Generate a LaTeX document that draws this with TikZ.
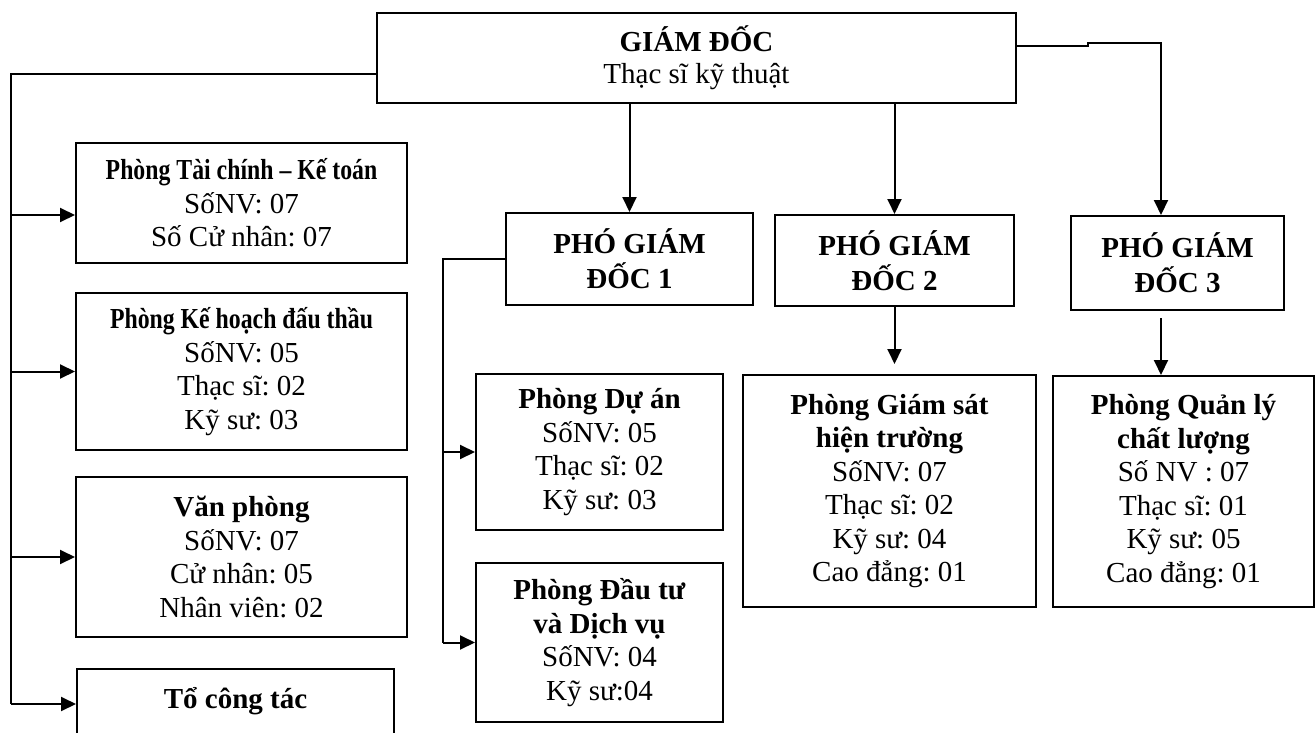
\documentclass[tikz,border=0pt]{standalone}
\usepackage{fontspec}
\setmainfont{Liberation Serif}
\usepackage{graphicx}
\usetikzlibrary{arrows.meta}
\frenchspacing
\tikzset{
  box/.style={draw, line width=2pt, align=center, inner sep=0pt, font=\fontsize{29}{33.5}\selectfont},
  arr/.style={line width=2pt, -{Triangle[length=15pt,width=14pt]}},
  ln/.style={line width=2pt},
}
\newcommand{\cond}[1]{\scalebox{0.82}[1]{\textbf{#1}}}
\begin{document}
\begin{tikzpicture}[x=1pt,y=-1pt]
\useasboundingbox (0,0) rectangle (1315,733);
\clip (0,0) rectangle (1315,733);
% top
\node[box, minimum width=639pt, minimum height=90pt, font=\fontsize{29}{32}\selectfont] (gd) at (696.5,58) {\textbf{GIÁM ĐỐC}\\Thạc sĩ kỹ thuật};
% left column
\node[box, minimum width=331pt, minimum height=120pt] (tck) at (241.5,203) {\cond{Phòng Tài chính – Kế toán}\\SốNV: 07\\Số Cử nhân: 07};
\node[box, minimum width=331pt, minimum height=157pt] (kh) at (241.5,371.5) {\cond{Phòng Kế hoạch đấu thầu}\\SốNV: 05\\Thạc sĩ: 02\\Kỹ sư: 03};
\node[box, minimum width=331pt, minimum height=160pt] (vp) at (241.5,557) {\textbf{Văn phòng}\\SốNV: 07\\Cử nhân: 05\\Nhân viên: 02};
\node[box, anchor=north west, minimum width=317pt, text height=39pt, text depth=70pt] (tct) at (76,668) {\textbf{Tổ công tác}};
% deputies
\node[box, minimum width=247pt, minimum height=92pt, font=\fontsize{29}{35}\selectfont] (pgd1) at (629.5,259) {\textbf{PHÓ GIÁM}\\\textbf{ĐỐC 1}};
\node[box, minimum width=239pt, minimum height=91pt, font=\fontsize{29}{35}\selectfont] (pgd2) at (894.5,260.5) {\textbf{PHÓ GIÁM}\\\textbf{ĐỐC 2}};
\node[box, minimum width=213pt, minimum height=94pt, font=\fontsize{29}{35}\selectfont] (pgd3) at (1177.5,263) {\textbf{PHÓ GIÁM}\\\textbf{ĐỐC 3}};
% departments
\node[box, minimum width=247pt, minimum height=156pt] (da) at (599.5,452) {\textbf{Phòng Dự án}\\SốNV: 05\\Thạc sĩ: 02\\Kỹ sư: 03};
\node[box, minimum width=247pt, minimum height=159pt] (dt) at (599.5,642.5) {\textbf{Phòng Đầu tư}\\\textbf{và Dịch vụ}\\SốNV: 04\\Kỹ sư:04};
\node[box, minimum width=293pt, minimum height=232pt] (gs) at (889.5,491) {\textbf{Phòng Giám sát}\\\textbf{hiện trường}\\SốNV: 07\\Thạc sĩ: 02\\Kỹ sư: 04\\Cao đẳng: 01};
\node[box, minimum width=261pt, minimum height=231pt] (ql) at (1183.5,491.5) {\textbf{Phòng Quản lý}\\\textbf{chất lượng}\\Số NV : 07\\Thạc sĩ: 01\\Kỹ sư: 05\\Cao đẳng: 01};
% coordinates
\coordinate (L) at (11,704);
\coordinate (P1) at (443,0);
\coordinate (j1) at (1088,46);
\coordinate (j2) at (1088,43);
\coordinate (j3) at (1161,43);
\coordinate (g2) at (894.5,364);
\coordinate (g3) at (1161,318);
\path ([yshift=-16pt]gd.west) coordinate (gw);
\path ([yshift=12pt]gd.east) coordinate (ge);
\path ([yshift=-12pt]tck.west) coordinate (tw);
% left tree
\draw[ln] (gw) -| (L);
\draw[arr] (tw -| L) -- (tw);
\draw[arr] (kh.west -| L) -- (kh.west);
\draw[arr] (vp.west -| L) -- (vp.west);
\draw[arr] (L) -- (L -| tct.west);
% director to deputies
\draw[arr] (gd.south -| pgd1.north) -- (pgd1.north);
\draw[arr] (gd.south -| pgd2.north) -- (pgd2.north);
\draw[arr] (ge) -- (j1) -- (j2) -- (j3) -- (j3 |- pgd3.north);
% deputy 1
\draw[ln] (pgd1.west) -| (P1 |- dt.west);
\draw[arr] (P1 |- da.west) -- (da.west);
\draw[arr] (P1 |- dt.west) -- (dt.west);
% deputy 2, 3
\draw[arr] (pgd2.south) -- (g2);
\draw[arr] (g3) -- (g3 |- ql.north);
\end{tikzpicture}
\end{document}
